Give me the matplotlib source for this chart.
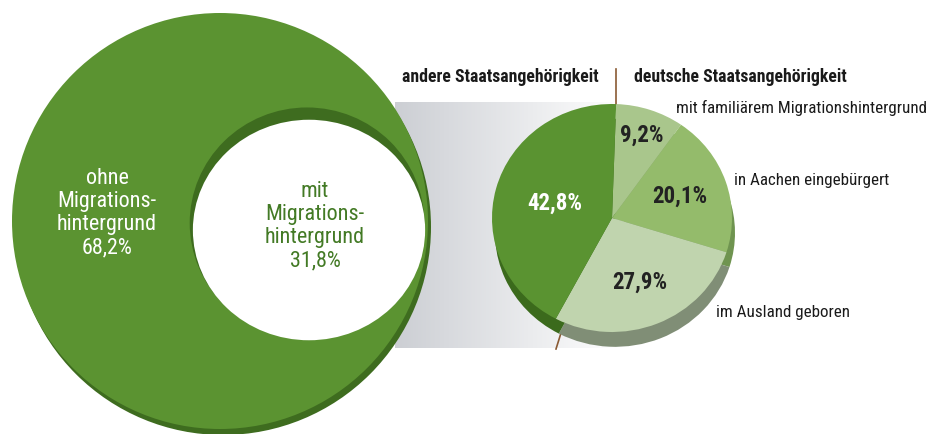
import numpy as np
import matplotlib
matplotlib.use("Agg")
import matplotlib.pyplot as plt
from matplotlib.patches import Circle, Ellipse
from matplotlib import font_manager as fm

# ---------------- data ----------------
main_labels = ["ohne\nMigrations-\nhintergrund", "mit\nMigrations-\nhintergrund"]
main_shares = [68.2, 31.8]

sub_labels = ["mit familiärem Migrationshintergrund",
              "in Aachen eingebürgert",
              "im Ausland geboren",
              "andere Staatsangehörigkeit"]
sub_values = [9.2, 20.1, 27.9, 42.8]

group_labels = ["andere Staatsangehörigkeit", "deutsche Staatsangehörigkeit"]


# ---------------- font choice (prefer a condensed face) ----------------
def pick_font():
    entries = [(f.name, f.stretch) for f in fm.fontManager.ttflist]
    names = {n for n, _ in entries}
    for n in ['Liberation Sans Narrow', 'Roboto Condensed', 'Open Sans Condensed',
              'Noto Sans Condensed', 'DejaVu Sans Condensed', 'Arial Narrow']:
        if n in names:
            return n, 'normal'
    for n in ['Noto Sans', 'DejaVu Sans', 'Open Sans', 'Roboto']:
        if any(nm == n and 'condensed' in str(st) for nm, st in entries):
            return n, 'condensed'
    return 'DejaVu Sans', 'normal'


FAM, STRETCH = pick_font()
plt.rcParams['font.family'] = [FAM, 'DejaVu Sans']

GREEN = '#5b9331'
DARK = '#3e6c1f'
sub_colors = ['#a9c68c', '#94bb6b', '#c0d4ae', '#5a9331']
sub_shadow = ['#8ea57a', '#6f9450', '#808e76', '#3b6a1c']
pct_color = ['#222222', '#222222', '#222222', 'white']
pct_dist = [0.77, 0.60, 0.61, 0.49]


def fmt(v):
    return f"{v:.1f}%".replace('.', ',')


W, H = 929, 434
fig = plt.figure(figsize=(W / 100, H / 100), dpi=100)
renderer = fig.canvas.get_renderer()


def fit_size(sample, target_px, weight='normal'):
    """font size (pt) so that `sample` is about target_px wide"""
    t = fig.text(0, 0, sample, fontsize=10, fontweight=weight, fontstretch=STRETCH)
    w = t.get_window_extent(renderer).width
    t.remove()
    return 10 * target_px / w


ax = fig.add_axes([0, 0, 1, 1])
ax.set_xlim(0, W)
ax.set_ylim(H, 0)
ax.axis('off')

# gradient band connecting circle hole with pie
grad = np.linspace(0, 1, 256)
c0 = np.array([0.80, 0.81, 0.83])
img = c0[None, None, :] * (1 - grad[None, :, None]) + 1.0 * grad[None, :, None]
ax.imshow(img, extent=[395, 622, 348, 102], aspect='auto', zorder=0,
          interpolation='bilinear')

# big circle with hole (hole area = share "mit Migrationshintergrund")
R = 208
cx, cy = 220, 221
ax.add_patch(Circle((cx + 3, cy + 6), R, color=DARK, zorder=1, lw=0))
ax.add_patch(Circle((cx, cy), R, color=GREEN, zorder=2, lw=0))
r = R * np.sqrt(main_shares[1] / 100)
ax.add_patch(Ellipse((307, 223), 2 * r, 2 * r * 0.985, color=DARK, zorder=3, lw=0))
ax.add_patch(Ellipse((309, 230), 2 * r * 0.99, 2 * r * 0.94, color='white', zorder=4, lw=0))

big_fs = fit_size("hintergrund", 100)
big_ls = 25 / (big_fs * 100 / 72)
ax.text(107, 213, main_labels[0] + "\n" + fmt(main_shares[0]), color='white',
        ha='center', va='center', fontsize=big_fs, linespacing=big_ls,
        fontstretch=STRETCH, zorder=5)
ax.text(315, 226, main_labels[1] + "\n" + fmt(main_shares[1]), color='#437a25',
        ha='center', va='center', fontsize=big_fs, linespacing=big_ls,
        fontstretch=STRETCH, zorder=5)

# header labels and leader lines
hdr_fs = fit_size(group_labels[0], 197, 'bold')
ax.text(599, 77, group_labels[0], ha='right', va='center', fontsize=hdr_fs,
        fontweight='bold', fontstretch=STRETCH, color='#1a1a1a')
ax.text(634, 77, group_labels[1], ha='left', va='center', fontsize=hdr_fs,
        fontweight='bold', fontstretch=STRETCH, color='#1a1a1a')
ax.plot([616, 616], [69, 104], color='#8a5a33', lw=1.2, zorder=1)
ax.plot([561, 556], [333, 349], color='#8a5a33', lw=1.2, zorder=1)

# outer labels for pie
lab_fs = fit_size(sub_labels[0], 250)
ax.text(676, 108, sub_labels[0], ha='left', va='center', fontsize=lab_fs,
        fontstretch=STRETCH, color='#1a1a1a')
ax.text(734, 180, sub_labels[1], ha='left', va='center', fontsize=lab_fs,
        fontstretch=STRETCH, color='#1a1a1a')
ax.text(716, 313, sub_labels[2], ha='left', va='center', fontsize=lab_fs,
        fontstretch=STRETCH, color='#1a1a1a')

# ---------------- pie (elliptical via non-equal aspect) ----------------
pcx, pcy, rx, ry = 612, 218, 120, 114
ybot = -1.25
px_bottom = pcy - ybot * ry
pax = fig.add_axes([(pcx - rx) / W, 1 - px_bottom / H, 2 * rx / W,
                    (px_bottom - (pcy - ry)) / H])
start = 88
pax.pie(sub_values, colors=sub_shadow, startangle=start, counterclock=False,
        center=(0.025, -0.13), wedgeprops=dict(lw=0))
wedges, _ = pax.pie(sub_values, colors=sub_colors, startangle=start, counterclock=False,
                    wedgeprops=dict(lw=0))
pct_fs = fit_size("42,8%", 55, 'bold')
for w, v, d, c in zip(wedges, sub_values, pct_dist, pct_color):
    ang = np.deg2rad((w.theta1 + w.theta2) / 2)
    pax.text(d * np.cos(ang), d * np.sin(ang), fmt(v), ha='center', va='center',
             fontsize=pct_fs, fontweight='bold', fontstretch=STRETCH, color=c)
pax.set_aspect('auto')
pax.set_xlim(-1, 1)
pax.set_ylim(ybot, 1)
pax.axis('off')

fig.savefig('out.png', dpi=100)
